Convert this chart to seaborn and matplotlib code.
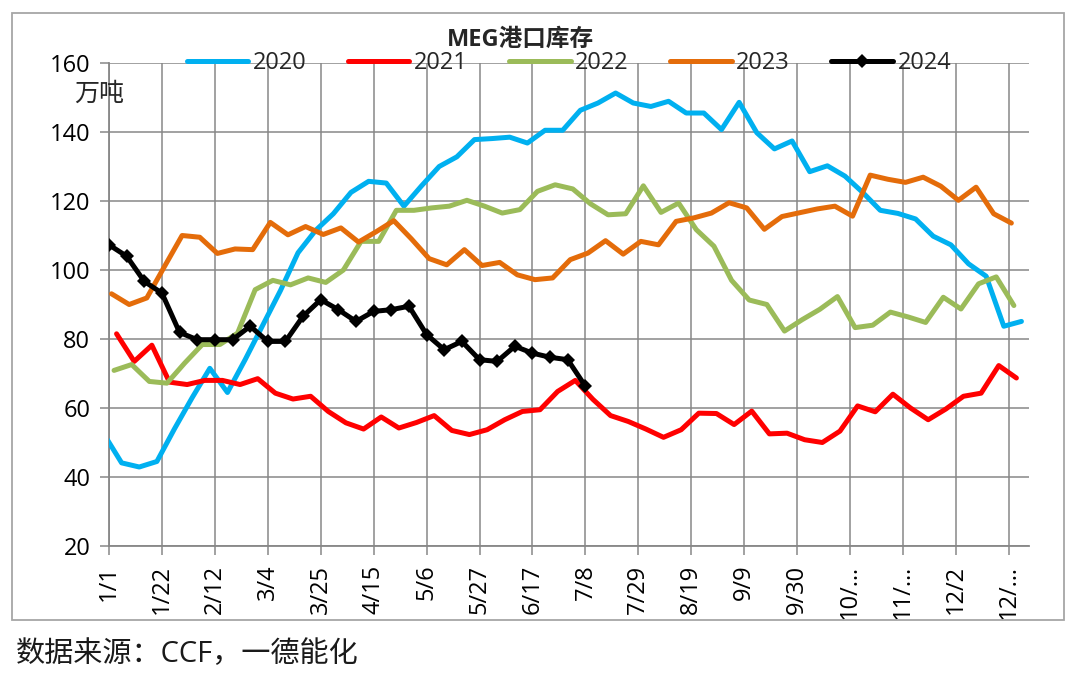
import matplotlib
matplotlib.use("Agg")
import matplotlib.pyplot as plt
from matplotlib.patches import Rectangle
import numpy as np
import pandas as pd
import seaborn as sns

# MEG port inventory, 10k tonnes, weekly (Monday) readings per year
years = ["2020", "2021", "2022", "2023", "2024"]
first_dates = ["2019-12-30", "2021-01-04", "2022-01-03", "2023-01-02", "2024-01-01"]

v2020 = [52.4, 44.1, 42.9, 44.5, 54.0, 63.0, 71.5, 64.5, 74.0, 84.0,
         94.0, 105.0, 111.5, 116.3, 122.5, 125.7, 125.2, 118.5, 124.4, 130.0,
         132.8, 137.8, 138.1, 138.5, 136.8, 140.5, 140.5, 146.3, 148.4, 151.3,
         148.4, 147.4, 148.9, 145.5, 145.5, 140.7, 148.6, 139.8, 135.1, 137.4,
         128.5, 130.2, 127.2, 122.5, 117.3, 116.4, 114.8, 109.8, 107.3, 101.8,
         98.2, 83.7, 85.1]
v2021 = [81.5, 73.5, 78.2, 67.5, 66.8, 68.0, 68.0, 66.8, 68.5, 64.3,
         62.6, 63.4, 59.0, 55.7, 53.9, 57.4, 54.2, 55.8, 57.8, 53.5,
         52.3, 53.7, 56.6, 59.0, 59.5, 64.8, 68.0, 62.5, 57.8, 56.1,
         53.9, 51.5, 53.7, 58.5, 58.4, 55.2, 59.1, 52.5, 52.7, 50.8,
         50.0, 53.3, 60.6, 58.9, 64.0, 60.0, 56.6, 59.7, 63.4, 64.3,
         72.3, 68.7]
v2022 = [70.9, 72.6, 67.7, 67.2, 73.0, 78.4, 78.4, 81.7, 94.3, 97.0,
         95.7, 97.7, 96.4, 100.0, 108.3, 108.3, 117.3, 117.3, 118.0, 118.5,
         120.2, 118.5, 116.5, 117.5, 122.8, 124.7, 123.5, 119.2, 116.0, 116.3,
         124.4, 116.7, 119.4, 111.7, 106.9, 97.0, 91.3, 90.0, 82.3, 85.6,
         88.6, 92.3, 83.3, 84.0, 87.8, 86.4, 84.8, 92.1, 88.7, 96.0,
         98.0, 89.7]
v2023 = [93.1, 90.0, 91.9, 101.0, 110.0, 109.5, 104.8, 106.1, 105.9, 113.8,
         110.2, 112.6, 110.3, 112.2, 108.1, 111.1, 114.3, 109.0, 103.3, 101.5,
         105.9, 101.3, 102.2, 98.6, 97.2, 97.7, 103.0, 104.9, 108.5, 104.6,
         108.3, 107.3, 114.1, 115.1, 116.5, 119.5, 118.0, 111.8, 115.5, 116.6,
         117.7, 118.5, 115.6, 127.5, 126.3, 125.4, 126.9, 124.3, 120.2, 124.0,
         116.3, 113.6]
v2024 = [107.3, 104.0, 96.7, 93.3, 81.9, 79.8, 79.8, 79.8, 83.7, 79.3,
         79.3, 86.6, 91.4, 88.5, 85.1, 88.0, 88.5, 89.5, 81.3, 76.9,
         79.3, 74.0, 73.5, 77.9, 75.9, 74.7, 74.0, 66.3]

tick_labels = ["1/1", "1/22", "2/12", "3/4", "3/25", "4/15", "5/6", "5/27", "6/17",
               "7/8", "7/29", "8/19", "9/9", "9/30", "10/…", "11/…", "12/2", "12/…"]

colors = {"2020": "#00B0F0", "2021": "#FF0000", "2022": "#9BBB59",
          "2023": "#E46C0A", "2024": "#000000"}
values = {"2020": v2020, "2021": v2021, "2022": v2022, "2023": v2023, "2024": v2024}

# long table, x = day of year (same month/day axis for all years)
rows = []
for year, start in zip(years, first_dates):
    dates = pd.date_range(start, periods=len(values[year]), freq="7D")
    days = (dates - pd.Timestamp(year + "-01-01")).days
    rows.append(pd.DataFrame({"day": days, "value": values[year], "year": year}))
df = pd.concat(rows, ignore_index=True)

sns.set_theme(style="white")
plt.rcParams["font.family"] = ["Open Sans", "Noto Sans CJK SC", "DejaVu Sans"]
grid_c = "#878787"

fig = plt.figure(figsize=(10.8, 6.8), dpi=100)
ax = fig.add_axes([109 / 1080, 1 - 546 / 680, (1029 - 109) / 1080, (546 - 63) / 680])

for year in years:
    d = df[df["year"] == year]
    if year == "2024":
        sns.lineplot(data=d, x="day", y="value", ax=ax, color=colors[year], lw=3.6,
                     marker="D", markersize=7, markeredgewidth=0, label=year,
                     sort=False, zorder=5)
    else:
        sns.lineplot(data=d, x="day", y="value", ax=ax, color=colors[year], lw=3.6,
                     label=year, sort=False, zorder=3)

ax.set_xlim(0, 365)
ax.set_ylim(20, 160)
ax.set_xticks(np.arange(0, 358, 21))
ax.set_xticklabels(tick_labels, rotation=90)
ax.set_yticks(np.arange(20, 161, 20))
ax.set_xlabel("")
ax.set_ylabel("")
ax.grid(True, color=grid_c, lw=1.1)
ax.set_axisbelow(True)
for side in ["top", "right"]:
    ax.spines[side].set_visible(False)
for side in ["left", "bottom"]:
    ax.spines[side].set_color(grid_c)
    ax.spines[side].set_linewidth(1.3)
ax.tick_params(axis="both", which="major", length=6.5, width=1.1, color=grid_c,
               labelsize=17, labelcolor="black", pad=7, direction="out",
               bottom=True, left=True)

ax.legend(loc="center", bbox_to_anchor=(0.5, 1.0), ncol=5, frameon=False,
          fontsize=17, handlelength=2.6, handletextpad=0.2, columnspacing=1.75,
          borderaxespad=0)

fig.text(520 / 1080, 1 - 40 / 680, "MEG港口库存", fontsize=17, fontweight="bold",
         ha="center", va="center")
fig.text(99 / 1080, 1 - 94 / 680, "万吨", fontsize=18, ha="center", va="center")
fig.text(16 / 1080, 1 - 655 / 680, "数据来源：CCF，一德能化", fontsize=21,
         ha="left", va="center", color="#1a1a1a")

fig.patches.append(Rectangle((12 / 1080, 1 - 620 / 680), (1064 - 12) / 1080,
                             (620 - 13) / 680, transform=fig.transFigure,
                             fill=False, ec="#A6A6A6", lw=1.3))

fig.savefig("out.png", dpi=100, facecolor="white")
